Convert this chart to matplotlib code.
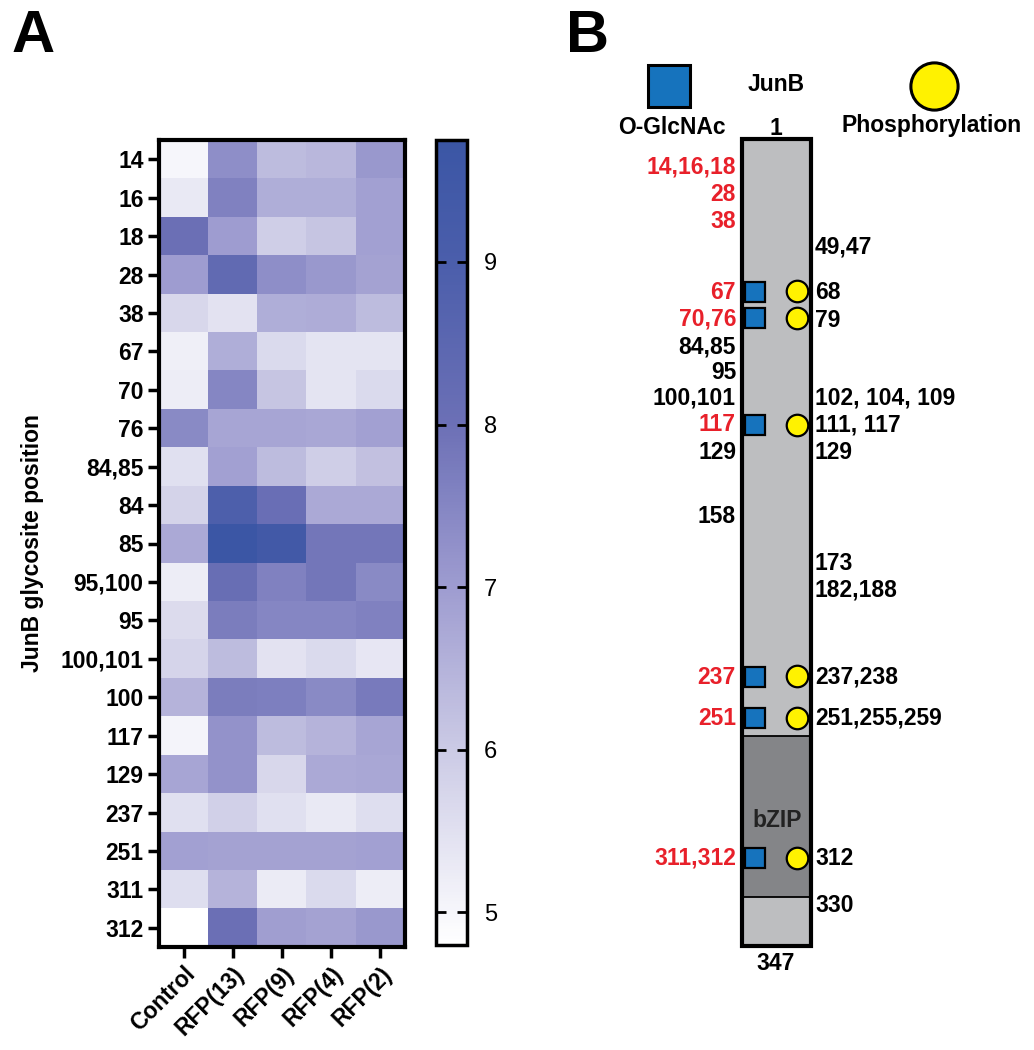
import numpy as np
import matplotlib
matplotlib.use("Agg")
import matplotlib.pyplot as plt
from matplotlib.colors import LinearSegmentedColormap
from matplotlib.patches import Rectangle

plt.rcParams['font.family'] = ['Liberation Sans', 'DejaVu Sans']

# ---------------- Data: panel A ----------------
rows = ["14", "16", "18", "28", "38", "67", "70", "76", "84,85", "84", "85",
        "95,100", "95", "100,101", "100", "117", "129", "237", "251", "311", "312"]
cols = ["Control", "RFP(13)", "RFP(9)", "RFP(4)", "RFP(2)"]
control = [5.0, 5.3, 8.0, 7.0, 5.7, 5.15, 5.2, 7.4, 5.5, 5.8, 6.7,
           5.2, 5.6, 5.75, 6.5, 5.05, 6.8, 5.5, 6.9, 5.55, 4.8]
rfp13 = [7.3, 7.6, 7.0, 8.3, 5.45, 6.6, 7.5, 6.8, 6.9, 8.9, 9.7,
         8.1, 7.7, 6.3, 7.7, 7.2, 7.2, 5.85, 6.85, 6.5, 8.0]
rfp9 = [6.3, 6.6, 5.9, 7.3, 6.6, 5.65, 6.1, 6.8, 6.3, 8.05, 9.4,
        7.6, 7.5, 5.45, 7.65, 6.3, 5.7, 5.5, 6.85, 5.25, 6.95]
rfp4 = [6.4, 6.6, 6.1, 7.1, 6.65, 5.4, 5.4, 6.75, 5.9, 6.7, 7.85,
        7.85, 7.5, 5.65, 7.4, 6.5, 6.7, 5.3, 6.85, 5.65, 6.85]
rfp2 = [7.1, 6.9, 6.9, 6.85, 6.3, 5.4, 5.65, 6.9, 6.2, 6.7, 7.85,
        7.4, 7.6, 5.35, 7.75, 6.8, 6.75, 5.55, 6.9, 5.2, 7.1]
cbar_ticks = [5, 6, 7, 8, 9]
vmin, vmax = 4.8, 9.75

# ---------------- Data: panel B ----------------
protein_length = 347
bzip_start, bzip_end = 257, 326
left_labels = ["14,16,18", "28", "38", "67", "70,76", "84,85", "95", "100,101",
               "117", "129", "158", "237", "251", "311,312"]
left_pos = [13.0, 25.0, 36.2, 66.8, 78.0, 90.2, 100.9, 112.1,
            123.6, 135.6, 162.7, 231.7, 249.3, 309.3]
left_red = [True, True, True, True, True, False, False, False,
            True, False, False, True, True, True]
right_labels = ["49,47", "68", "79", "102, 104, 109", "111, 117", "129", "173",
                "182,188", "237,238", "251,255,259", "312", "330"]
right_pos = [47.3, 66.8, 79.0, 112.1, 123.6, 135.6, 182.8,
             194.4, 231.7, 249.3, 309.3, 329.5]
glcnac_sites = [66.8, 77.8, 123.6, 231.7, 249.3, 309.3]
phospho_sites = [66.2, 77.8, 123.6, 231.3, 249.3, 309.3]

# ---------------- Figure ----------------
fig = plt.figure(figsize=(10.34, 10.5), dpi=100)
W, H = 1034, 1050

def fr(x0, y0, x1, y1):
    return [x0 / W, 1 - y1 / H, (x1 - x0) / W, (y1 - y0) / H]

cmap = LinearSegmentedColormap.from_list(
    "junb",
    [((4.8 - vmin) / (vmax - vmin), "#ffffff"),
     ((5.0 - vmin) / (vmax - vmin), "#f6f6fb"),
     ((6.0 - vmin) / (vmax - vmin), "#cbcae5"),
     ((7.0 - vmin) / (vmax - vmin), "#9e9cd0"),
     ((8.0 - vmin) / (vmax - vmin), "#6c70b6"),
     ((9.0 - vmin) / (vmax - vmin), "#4b5eab"),
     (1.0, "#3b56a5")])

data = np.array([control, rfp13, rfp9, rfp4, rfp2]).T

axA = fig.add_axes(fr(159, 140, 405, 947))
im = axA.imshow(data, cmap=cmap, vmin=vmin, vmax=vmax, aspect="auto",
                interpolation="nearest")
axA.set_yticks(np.arange(len(rows)))
axA.set_yticklabels(rows, fontsize=16.5, fontweight="bold")
axA.set_xticks(np.arange(len(cols)))
axA.set_xticklabels(cols, fontsize=16.5, fontweight="bold", rotation=45,
                    ha="right", rotation_mode="anchor")
axA.tick_params(axis="both", length=8, width=2.5, pad=3)
for sp in axA.spines.values():
    sp.set_linewidth(3)
axA.set_ylabel("JunB glycosite position", fontsize=16.5, fontweight="bold",
               labelpad=12)

cax = fig.add_axes(fr(436, 140, 467, 945))
cb = fig.colorbar(im, cax=cax, ticks=cbar_ticks)
cb.outline.set_linewidth(2.5)
cax.tick_params(axis="y", which="both", direction="in", length=7, width=2,
                left=True, right=True, labelsize=17, pad=12)
cax.set_yticklabels([str(t) for t in cbar_ticks], fontsize=17)

fig.text(12 / W, 1 - 36 / H, "A", fontsize=43, fontweight="bold", va="center")
fig.text(566 / W, 1 - 36 / H, "B", fontsize=43, fontweight="bold", va="center")

# ---------------- Panel B ----------------
axB = fig.add_axes(fr(600, 139, 1034, 946))
axB.set_xlim(600, 1034)
axB.set_ylim(protein_length, 1)
axB.axis("off")

bar_x0, bar_x1 = 742, 811
light = "#bdbec0"
dark = "#848588"
axB.add_patch(Rectangle((bar_x0, 1), bar_x1 - bar_x0, protein_length - 1,
                        facecolor=light, edgecolor="none", zorder=1))
axB.add_patch(Rectangle((bar_x0, bzip_start), bar_x1 - bar_x0,
                        bzip_end - bzip_start, facecolor=dark,
                        edgecolor="black", linewidth=1.3, zorder=2))
axB.add_patch(Rectangle((bar_x0, 1), bar_x1 - bar_x0, protein_length - 1,
                        facecolor="none", edgecolor="black", linewidth=3,
                        zorder=3, clip_on=False))

red = "#e8202a"
for lab, y, isred in zip(left_labels, left_pos, left_red):
    axB.text(736, y, lab, ha="right", va="center", fontsize=16.5,
             fontweight="bold", color=red if isred else "black", clip_on=False)
for lab, y in zip(right_labels, right_pos):
    axB.text(815, y, lab, ha="left", va="center", fontsize=16.5,
             fontweight="bold", color="black", clip_on=False)

blue = "#1673bd"
yellow = "#fff200"
axB.plot([755] * len(glcnac_sites), glcnac_sites, linestyle="none", marker="s",
         markersize=14, markerfacecolor=blue, markeredgecolor="black",
         markeredgewidth=1.6, zorder=5, clip_on=False)
axB.plot([797] * len(phospho_sites), phospho_sites, linestyle="none", marker="o",
         markersize=15.5, markerfacecolor=yellow, markeredgecolor="black",
         markeredgewidth=1.6, zorder=5, clip_on=False)

# legend / labels above the bar
axB.plot([669], [-21.7], marker="s", markersize=30, markerfacecolor=blue,
         markeredgecolor="black", markeredgewidth=2.2, clip_on=False)
axB.plot([934], [-21.7], marker="o", markersize=34, markerfacecolor=yellow,
         markeredgecolor="black", markeredgewidth=2.2, clip_on=False)
axB.text(672, -4.1, "O-GlcNAc", ha="center", va="center", fontsize=16.5,
         fontweight="bold", clip_on=False)
axB.text(932, -4.6, "Phosphorylation", ha="center", va="center", fontsize=16.5,
         fontweight="bold", clip_on=False)
axB.text(776, -22.2, "JunB", ha="center", va="center", fontsize=16.5,
         fontweight="bold", clip_on=False)
axB.text(776, -3.7, "1", ha="center", va="center", fontsize=16.5,
         fontweight="bold", clip_on=False)
axB.text(776, 354.3, str(protein_length), ha="center", va="center",
         fontsize=16.5, fontweight="bold", clip_on=False)
axB.text(777, 293.0, "bZIP", ha="center", va="center", fontsize=16.5,
         fontweight="bold", color="#222222", zorder=4)

fig.savefig("out.png", dpi=100)
